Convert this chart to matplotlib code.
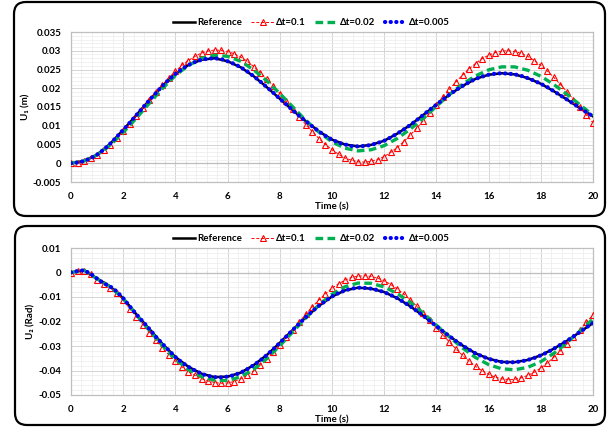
import numpy as np
import matplotlib
matplotlib.use("Agg")
import matplotlib.pyplot as plt
from matplotlib.patches import FancyBboxPatch
from matplotlib.ticker import MultipleLocator, FuncFormatter, NullFormatter

# time grids (s)
t_coarse = np.linspace(0, 20, 41)   # 0.5 s
t_fine = np.linspace(0, 20, 81)     # 0.25 s

labels = ["Reference", "\u0394t=0.1", "\u0394t=0.02", "\u0394t=0.005"]

# ---- U1 (m) ----
u1_ref = [0.0000, 0.0006, 0.0023, 0.0052, 0.0089, 0.0128, 0.0168, 0.0206, 0.0238, 0.0262,
          0.0276, 0.0280, 0.0272, 0.0256, 0.0232, 0.0203, 0.0172, 0.0141, 0.0112, 0.0085,
          0.0063, 0.0050, 0.0045, 0.0049, 0.0060, 0.0079, 0.0102, 0.0129, 0.0156, 0.0183,
          0.0206, 0.0225, 0.0236, 0.0240, 0.0237, 0.0227, 0.0212, 0.0192, 0.0170, 0.0147,
          0.0125]
u1_dt002 = [0.0000, 0.0006, 0.0022, 0.0048, 0.0082, 0.0120, 0.0160, 0.0199, 0.0234, 0.0261,
            0.0280, 0.0288, 0.0285, 0.0272, 0.0249, 0.0220, 0.0186, 0.0150, 0.0114, 0.0083,
            0.0057, 0.0040, 0.0033, 0.0036, 0.0047, 0.0066, 0.0091, 0.0120, 0.0152, 0.0183,
            0.0211, 0.0233, 0.0249, 0.0257, 0.0257, 0.0248, 0.0232, 0.0210, 0.0184, 0.0156,
            0.0128]
u1_dt01 = [0.0000, 0.0001, 0.0006, 0.0013, 0.0023, 0.0036, 0.0050, 0.0067,
           0.0085, 0.0105, 0.0126, 0.0147, 0.0168, 0.0189, 0.0209, 0.0228,
           0.0245, 0.0261, 0.0274, 0.0285, 0.0294, 0.0299, 0.0302, 0.0301,
           0.0298, 0.0292, 0.0283, 0.0272, 0.0258, 0.0242, 0.0225, 0.0206,
           0.0186, 0.0165, 0.0144, 0.0123, 0.0103, 0.0084, 0.0066, 0.0050,
           0.0036, 0.0024, 0.0014, 0.0008, 0.0004, 0.0003, 0.0005, 0.0010,
           0.0018, 0.0029, 0.0042, 0.0058, 0.0075, 0.0094, 0.0114, 0.0135,
           0.0156, 0.0177, 0.0197, 0.0217, 0.0235, 0.0252, 0.0266, 0.0279,
           0.0288, 0.0295, 0.0299, 0.0300, 0.0298, 0.0293, 0.0285, 0.0274,
           0.0261, 0.0246, 0.0229, 0.0210, 0.0191, 0.0170, 0.0149, 0.0128,
           0.0108]
u1_dt0005 = [0.0000, 0.0002, 0.0006, 0.0013, 0.0023, 0.0036, 0.0052, 0.0070,
             0.0089, 0.0108, 0.0128, 0.0148, 0.0168, 0.0187, 0.0206, 0.0223,
             0.0238, 0.0251, 0.0262, 0.0270, 0.0276, 0.0279, 0.0280, 0.0278,
             0.0272, 0.0265, 0.0256, 0.0245, 0.0232, 0.0218, 0.0203, 0.0188,
             0.0172, 0.0157, 0.0141, 0.0126, 0.0112, 0.0098, 0.0085, 0.0073,
             0.0063, 0.0055, 0.0050, 0.0046, 0.0045, 0.0046, 0.0049, 0.0054,
             0.0060, 0.0069, 0.0079, 0.0090, 0.0102, 0.0115, 0.0129, 0.0143,
             0.0156, 0.0170, 0.0183, 0.0195, 0.0206, 0.0216, 0.0225, 0.0231,
             0.0236, 0.0239, 0.0240, 0.0239, 0.0237, 0.0233, 0.0227, 0.0220,
             0.0212, 0.0203, 0.0192, 0.0181, 0.0170, 0.0159, 0.0147, 0.0136,
             0.0125]

# ---- U2 (Rad) ----
u2_ref = [0.0000, 0.0009, -0.0025, -0.0057, -0.0105, -0.0170, -0.0230, -0.0291, -0.0345, -0.0385,
          -0.0413, -0.0427, -0.0425, -0.0409, -0.0378, -0.0337, -0.0287, -0.0234, -0.0182, -0.0136,
          -0.0098, -0.0073, -0.0062, -0.0066, -0.0080, -0.0105, -0.0138, -0.0177, -0.0219, -0.0260,
          -0.0298, -0.0330, -0.0352, -0.0365, -0.0366, -0.0357, -0.0338, -0.0311, -0.0279, -0.0243,
          -0.0206]
u2_dt002 = [0.0000, 0.0009, -0.0026, -0.0058, -0.0106, -0.0172, -0.0235, -0.0298, -0.0354, -0.0396,
            -0.0425, -0.0440, -0.0441, -0.0426, -0.0395, -0.0352, -0.0299, -0.0242, -0.0185, -0.0132,
            -0.0089, -0.0058, -0.0043, -0.0044, -0.0059, -0.0086, -0.0122, -0.0166, -0.0215, -0.0263,
            -0.0308, -0.0347, -0.0376, -0.0393, -0.0397, -0.0387, -0.0364, -0.0330, -0.0287, -0.0239,
            -0.0190]
u2_dt01 = [0.0000, 0.0005, 0.0008, -0.0008, -0.0030, -0.0048, -0.0062, -0.0082,
           -0.0113, -0.0147, -0.0180, -0.0213, -0.0245, -0.0277, -0.0308, -0.0336,
           -0.0362, -0.0385, -0.0405, -0.0420, -0.0433, -0.0443, -0.0449, -0.0452,
           -0.0451, -0.0445, -0.0434, -0.0419, -0.0401, -0.0378, -0.0353, -0.0325,
           -0.0295, -0.0264, -0.0233, -0.0201, -0.0170, -0.0140, -0.0112, -0.0087,
           -0.0064, -0.0046, -0.0031, -0.0020, -0.0015, -0.0013, -0.0016, -0.0023,
           -0.0034, -0.0049, -0.0067, -0.0088, -0.0112, -0.0138, -0.0166, -0.0195,
           -0.0225, -0.0255, -0.0284, -0.0312, -0.0338, -0.0362, -0.0383, -0.0401,
           -0.0416, -0.0427, -0.0434, -0.0437, -0.0436, -0.0430, -0.0420, -0.0407,
           -0.0390, -0.0369, -0.0346, -0.0320, -0.0292, -0.0263, -0.0233, -0.0203,
           -0.0173]
u2_dt0005 = [0.0000, 0.0006, 0.0009, -0.0005, -0.0025, -0.0044, -0.0057, -0.0077,
             -0.0105, -0.0138, -0.0170, -0.0200, -0.0230, -0.0262, -0.0291, -0.0318,
             -0.0345, -0.0367, -0.0385, -0.0400, -0.0413, -0.0422, -0.0427, -0.0428,
             -0.0425, -0.0419, -0.0409, -0.0395, -0.0378, -0.0359, -0.0337, -0.0313,
             -0.0287, -0.0261, -0.0234, -0.0208, -0.0182, -0.0158, -0.0136, -0.0116,
             -0.0098, -0.0084, -0.0073, -0.0066, -0.0062, -0.0063, -0.0066, -0.0072,
             -0.0080, -0.0092, -0.0105, -0.0121, -0.0138, -0.0157, -0.0177, -0.0198,
             -0.0219, -0.0240, -0.0260, -0.0280, -0.0298, -0.0315, -0.0330, -0.0342,
             -0.0352, -0.0360, -0.0365, -0.0367, -0.0366, -0.0363, -0.0357, -0.0349,
             -0.0338, -0.0326, -0.0311, -0.0295, -0.0279, -0.0261, -0.0243, -0.0224,
             -0.0206]

plt.rcParams["font.family"] = ["Lato", "DejaVu Sans"]
plt.rcParams["font.weight"] = "bold"
plt.rcParams["font.size"] = 7

fig = plt.figure(figsize=(6.11, 4.28), dpi=100)

# rounded frames around each panel (inches)
for (x0, y0, w, h) in [(0.14, 2.12, 5.91, 2.14), (0.15, 0.03, 5.90, 1.99)]:
    fig.add_artist(FancyBboxPatch((x0, y0), w, h, boxstyle="round,pad=0,rounding_size=0.12",
                                  transform=fig.dpi_scale_trans, fill=False, ec="black", lw=1.6))


def panel(rect, ref, d01, d002, d0005, ylim, ymajor, yminor, ylabel):
    ax = fig.add_axes(rect)
    ax.set_xlim(0, 20)
    ax.set_ylim(*ylim)
    ax.xaxis.set_major_locator(MultipleLocator(2))
    ax.xaxis.set_minor_locator(MultipleLocator(0.4))
    ax.yaxis.set_major_locator(MultipleLocator(ymajor))
    ax.yaxis.set_minor_locator(MultipleLocator(yminor))
    ax.yaxis.set_major_formatter(FuncFormatter(lambda v, p: "%g" % (round(v, 4) + 0.0)))
    ax.grid(which="major", color="#d4d4d4", lw=0.7)
    ax.grid(which="minor", color="#ececec", lw=0.5)
    ax.set_axisbelow(True)
    for s in ax.spines.values():
        s.set_color("#bfbfbf")
        s.set_linewidth(0.9)
    ax.tick_params(which="both", length=0, pad=7, labelsize=7)
    ax.tick_params(axis="x", pad=7)

    # horizontal axis line at zero with small tick marks
    ax.axhline(0, color="#bfbfbf", lw=0.9, zorder=1)
    zero = ax.secondary_xaxis((0 - ylim[0]) / (ylim[1] - ylim[0]))
    zero.xaxis.set_major_locator(MultipleLocator(2))
    zero.xaxis.set_minor_locator(MultipleLocator(0.4))
    zero.xaxis.set_major_formatter(NullFormatter())
    zero.tick_params(which="both", direction="inout", length=3, color="#bfbfbf",
                     labelbottom=False, labeltop=False)
    for s in zero.spines.values():
        s.set_visible(False)

    ax.plot(t_coarse, ref, color="black", lw=1.8, label=labels[0], zorder=3)
    ax.plot(t_fine, d01, color="red", lw=0.7, ls=(0, (3, 2)), marker="^", ms=3.8,
            mfc="none", mew=0.8, label=labels[1], zorder=3)
    ax.plot(t_coarse, d002, color="#00b050", lw=2.4, ls=(0, (2.3, 1.3)), label=labels[2], zorder=4)
    ax.plot(t_fine, d0005, color="blue", lw=3.0, ls=(0, (0.05, 1.3)),
            dash_capstyle="round", label=labels[3], zorder=5)

    ax.set_xlabel("Time (s)", fontsize=7, fontweight="bold", labelpad=1)
    ax.set_ylabel(ylabel, fontsize=7, fontweight="bold", labelpad=2)
    ax.legend(loc="lower center", bbox_to_anchor=(0.46, 1.0), ncol=4, frameon=False,
              fontsize=7, handlelength=2.3, handletextpad=0.2, columnspacing=1.0,
              borderaxespad=0.1, numpoints=1)
    return ax


panel([71 / 611, 1 - 182 / 428, 522 / 611, 150 / 428], u1_ref, u1_dt01, u1_dt002, u1_dt0005,
      (-0.005, 0.035), 0.005, 0.001, "U\u2081 (m)")
panel([71 / 611, 1 - 395 / 428, 522 / 611, 147 / 428], u2_ref, u2_dt01, u2_dt002, u2_dt0005,
      (-0.05, 0.01), 0.01, 0.002, "U\u2082 (Rad)")

fig.savefig("out.png", dpi=100)
